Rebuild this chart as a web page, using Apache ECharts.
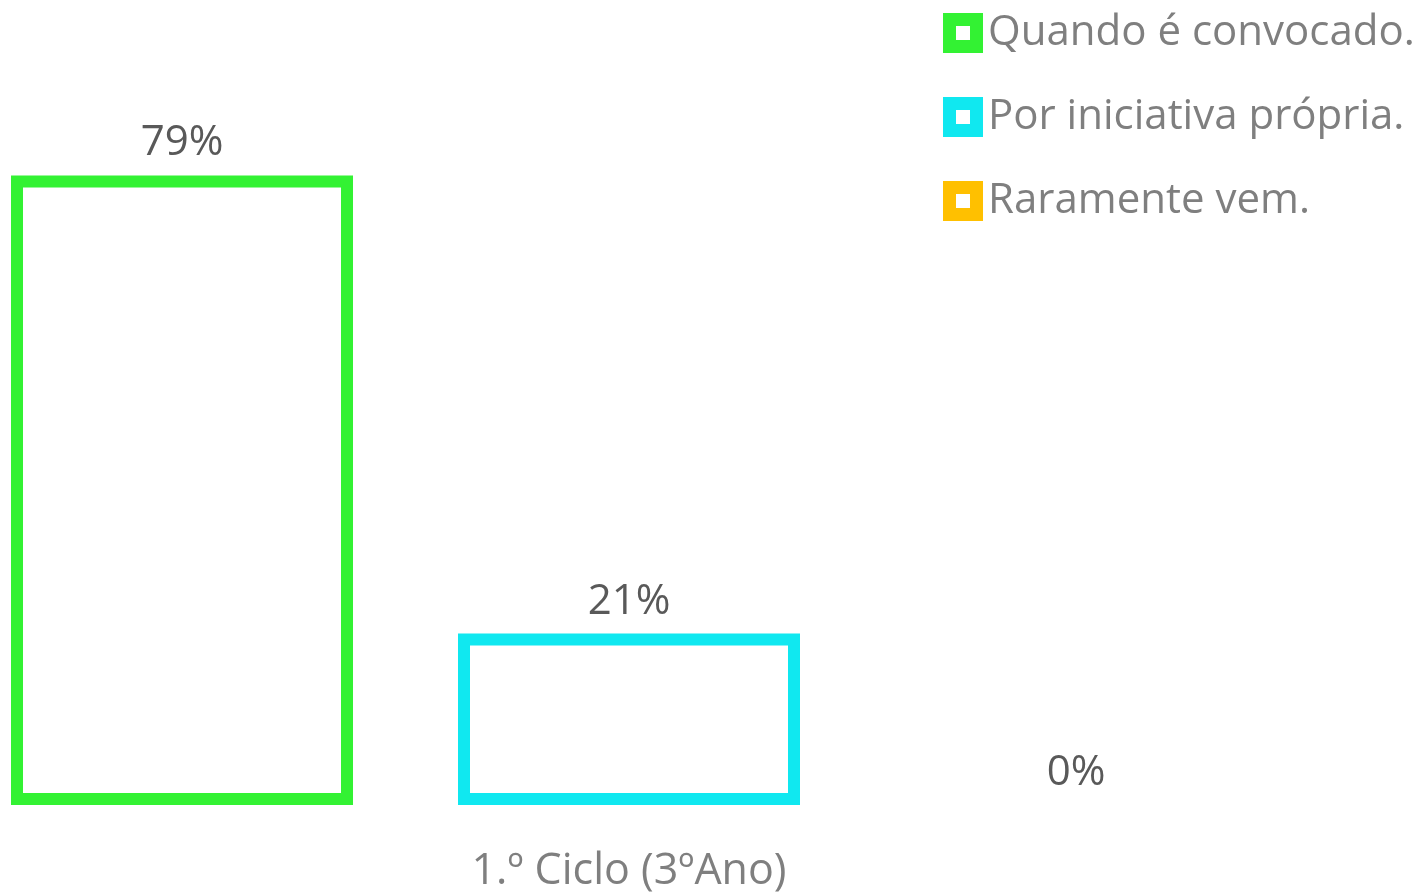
<!DOCTYPE html>
<html>
<head>
<meta charset="utf-8">
<script src="https://cdn.jsdelivr.net/npm/echarts@6/dist/echarts.min.js"></script>
<style>html,body{margin:0;padding:0;background:#fff}#c{width:1421px;height:893px}</style>
</head>
<body>
<div id="c"></div>
<script>
const categories = ['1.º Ciclo (3ºAno)'];
const seriesNames = ['Quando é convocado.', 'Por iniciativa própria.', 'Raramente vem.'];
const seriesValues = [[78.6], [21.4], [0]];
const seriesColors = ['#33F233', '#10E8F0', '#FFC000'];

const FONT = '"Open Sans", sans-serif';
const RING = 'path://M0,0L40,0L40,40L0,40Z M13,13L13,27L27,27L27,13Z';
const chart = echarts.init(document.getElementById('c'), null, {renderer: 'canvas'});
const series = seriesNames.map((name, i) => ({
  name: name,
  type: 'bar',
  barWidth: 342,
  barGap: '30.7%',
  itemStyle: {color: '#ffffff', borderColor: seriesColors[i], borderWidth: 12},
  label: {
    show: true, position: 'top', distance: 11,
    formatter: p => Math.round(p.value) + '%',
    fontFamily: FONT, fontSize: 42, color: '#595959'
  },
  data: seriesValues[i].map(v => v === 0 ? {value: v, itemStyle: {borderWidth: 0}} : v)
}));

chart.setOption({
  animation: false,
  grid: {left: 0, right: 163, top: 4, bottom: 85},
  legend: {
    data: seriesNames.map((n, i) => ({
      name: n, icon: RING,
      itemStyle: {color: seriesColors[i], borderWidth: 0}
    })),
    orient: 'vertical',
    left: 938, top: 7,
    itemWidth: 40, itemHeight: 40, itemGap: 42,
    textStyle: {fontFamily: FONT, fontSize: 42, color: '#7f7f7f', lineHeight: 40}
  },
  xAxis: {
    type: 'category', data: categories,
    axisLine: {show: false}, axisTick: {show: false},
    axisLabel: {fontFamily: FONT, fontSize: 43, color: '#7f7f7f', margin: 45}
  },
  yAxis: {
    type: 'value', min: 0, max: 100, show: false,
    splitLine: {show: false}
  },
  series: series
});
</script>
</body>
</html>
